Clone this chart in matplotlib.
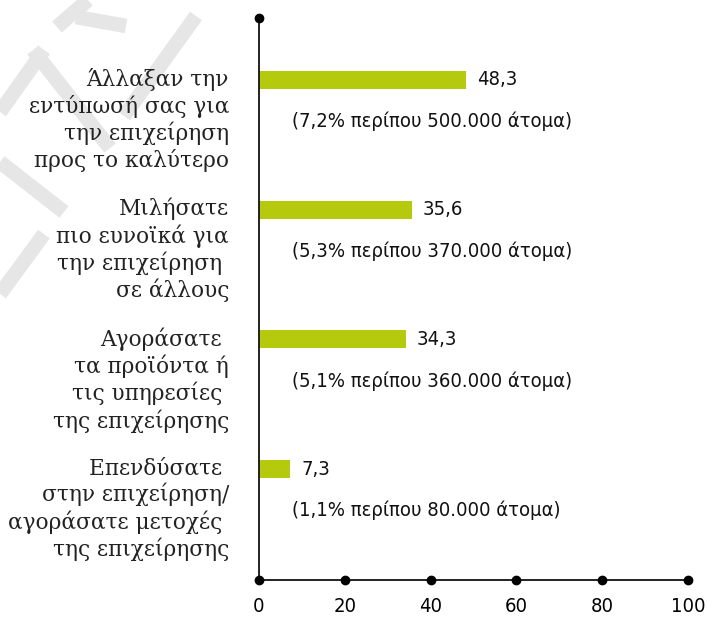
import matplotlib
matplotlib.use("Agg")
import matplotlib.pyplot as plt
from matplotlib import font_manager as fm
from matplotlib.lines import Line2D
from matplotlib.transforms import blended_transform_factory

# survey answers (share of respondents, %)
categories = [
    "Άλλαξαν την\nεντύπωσή σας για\nτην επιχείρηση\nπρος το καλύτερο",
    "Μιλήσατε\nπιο ευνοϊκά για\nτην επιχείρηση \nσε άλλους",
    "Αγοράσατε \nτα προϊόντα ή\nτις υπηρεσίες \nτης επιχείρησης",
    "Επενδύσατε \nστην επιχείρηση/\nαγοράσατε μετοχές \nτης επιχείρησης",
]
values = [48.3, 35.6, 34.3, 7.3]
population_share = ["7,2%", "5,3%", "5,1%", "1,1%"]
people = ["500.000", "370.000", "360.000", "80.000"]
xticks = [0, 20, 40, 60, 80, 100]

BAR_COLOR = "#b5ca0c"


def narrow_font(size):
    """Condensed sans for numbers, falling back to plain DejaVu Sans."""
    fonts = fm.fontManager.ttflist
    if any(f.name == "Liberation Sans Narrow" for f in fonts):
        return fm.FontProperties(family="Liberation Sans Narrow", size=size + 1.8)
    if any(f.name == "DejaVu Sans" and f.stretch == "condensed" for f in fonts):
        return fm.FontProperties(family="DejaVu Sans", stretch="condensed", size=size + 1.5)
    return fm.FontProperties(family="DejaVu Sans", size=size)


num_font = narrow_font(13)
label_font = fm.FontProperties(family=["DejaVu Serif"], size=15.6)

W, H = 707, 621
fig = plt.figure(figsize=(W / 100, H / 100), dpi=100)
fig.patch.set_facecolor("white")

# faint logo strokes behind the labels
strokes = [
    [(57, 27), (88, 0)],
    [(76, 17), (126, 26)],
    [(124, 116), (196, 16)],
    [(33, 50), (110, 148)],
    [(0, 112), (44, 50)],
    [(0, 162), (64, 212)],
    [(0, 294), (44, 234)],
]
for (x0, y0), (x1, y1) in strokes:
    fig.add_artist(Line2D([x0 / W, x1 / W], [1 - y0 / H, 1 - y1 / H],
                          transform=fig.transFigure, lw=10.5,
                          color="#e6e6e6", solid_capstyle="butt", zorder=0))

ax = fig.add_axes([259 / W, 1 - 580 / H, (688 - 259) / W, (580 - 18) / H])
ax.patch.set_alpha(0)

pos = list(range(len(values)))
y_top, y_bot = -0.478, 3.856
ax.barh(pos, values, height=0.14, color=BAR_COLOR, zorder=2)

ax.set_xlim(0, 100)
ax.set_ylim(y_bot, y_top)
for s in ("top", "right"):
    ax.spines[s].set_visible(False)
for s in ("left", "bottom"):
    ax.spines[s].set_linewidth(1.3)
    ax.spines[s].set_color("#111111")
ax.set_yticks([])
ax.set_xticks(xticks)
ax.tick_params(axis="x", length=0, pad=12)
for lab in ax.get_xticklabels():
    lab.set_fontproperties(num_font)

# dots on the axis ends and tick positions
ax.scatter(xticks, [y_bot] * len(xticks), s=36, color="black", clip_on=False, zorder=4)
ax.scatter([0], [y_top], s=36, color="black", clip_on=False, zorder=4)

for p, v, sh, n in zip(pos, values, population_share, people):
    ax.text(v + 2.5, p, f"{v:.1f}".replace(".", ","), va="center", ha="left",
            fontproperties=num_font, color="#111111")
    ax.text(7.8, p + 0.32, f"({sh} περίπου {n} άτομα)", va="center", ha="left",
            fontproperties=num_font, color="#111111")

trans = blended_transform_factory(ax.transAxes, ax.transData)
for p, cat in zip(pos, categories):
    ax.text(-30 / 429, p - 0.09, cat, transform=trans, ha="right", va="top",
            multialignment="right", fontproperties=label_font,
            linespacing=1.2, color="#222222")

fig.savefig("out.png", dpi=100, facecolor="white")
